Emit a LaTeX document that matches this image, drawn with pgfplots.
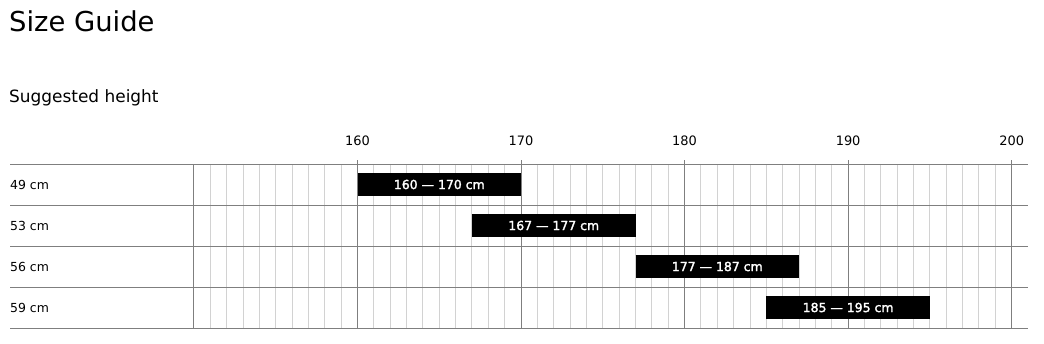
\documentclass[border=0pt]{standalone}
\usepackage{fontspec}
\setmainfont{DejaVu Sans}
\newfontfamily\barfont[FakeBold=2]{DejaVu Sans}
\usepackage{pgfplots}
\usepackage{pgfplotstable}
\pgfplotsset{compat=1.18}
\definecolor{gridmajor}{HTML}{7F7F7F}
\definecolor{gridminor}{HTML}{D2D2D2}

\pgfplotstableread[col sep=comma]{
y,mid,label
3.5,165,160 — 170 cm
2.5,172,167 — 177 cm
1.5,182,177 — 187 cm
0.5,190,185 — 195 cm
}\sizelabels

\begin{document}
\begin{tikzpicture}
\path[use as bounding box] (0bp,0bp) rectangle (1044bp,-344bp);
\node[anchor=base west, inner sep=0, font=\fontsize{27.5}{30}\selectfont] at (9bp,-31.7bp) {Size Guide};
\node[anchor=base west, inner sep=0, font=\fontsize{17}{20}\selectfont] at (9bp,-102bp) {Suggested height};
\begin{axis}[
  at={(10bp,-328bp)}, anchor=south west,
  scale only axis, width=1018bp, height=164bp,
  xmin=138.75, xmax=201, ymin=0, ymax=4,
  axis line style={draw=none},
  xtick={160,170,180,190,200},
  xtick pos=right, xticklabel pos=right,
  tick align=outside,
  major tick length=4bp, minor tick length=0pt,
  tick style={gridmajor, line width=1bp},
  minor xtick={151,152,153,154,155,156,157,158,159,
               161,162,163,164,165,166,167,168,169,
               171,172,173,174,175,176,177,178,179,
               181,182,183,184,185,186,187,188,189,
               191,192,193,194,195,196,197,198,199},
  xmajorgrids, xminorgrids,
  major grid style={gridmajor, line width=1bp},
  minor grid style={gridminor, line width=1bp},
  extra x ticks={150}, extra x tick labels={},
  extra x tick style={grid=major, major tick length=0pt},
  xticklabel style={font=\fontsize{13}{15}\selectfont, inner sep=0pt, anchor=south, yshift=14bp},
  ytick={0.5,1.5,2.5,3.5},
  yticklabels={59 cm,56 cm,53 cm,49 cm},
  ytick style={draw=none},
  yticklabel style={anchor=west, inner sep=0pt, xshift=4bp, font=\fontsize{12.5}{15}\selectfont},
  extra y ticks={0,1,2,3,4}, extra y tick labels={},
  extra y tick style={grid=major, major tick length=0pt},
  /pgf/number format/assume math mode=true,
  /pgf/number format/1000 sep={},
]
\addplot[black, line width=23.5bp, mark=none] coordinates {(160,3.5) (170,3.5)};
\addplot[black, line width=23.5bp, mark=none] coordinates {(167,2.5) (177,2.5)};
\addplot[black, line width=23.5bp, mark=none] coordinates {(177,1.5) (187,1.5)};
\addplot[black, line width=23.5bp, mark=none] coordinates {(185,0.5) (195,0.5)};
\addplot[draw=none, mark=none,
  nodes near coords, point meta=explicit symbolic,
  nodes near coords style={anchor=center, text=white, inner sep=0pt, font=\barfont\fontsize{12.5}{15}\selectfont}]
  table[x=mid, y=y, meta=label]{\sizelabels};
\end{axis}
\end{tikzpicture}
\end{document}
